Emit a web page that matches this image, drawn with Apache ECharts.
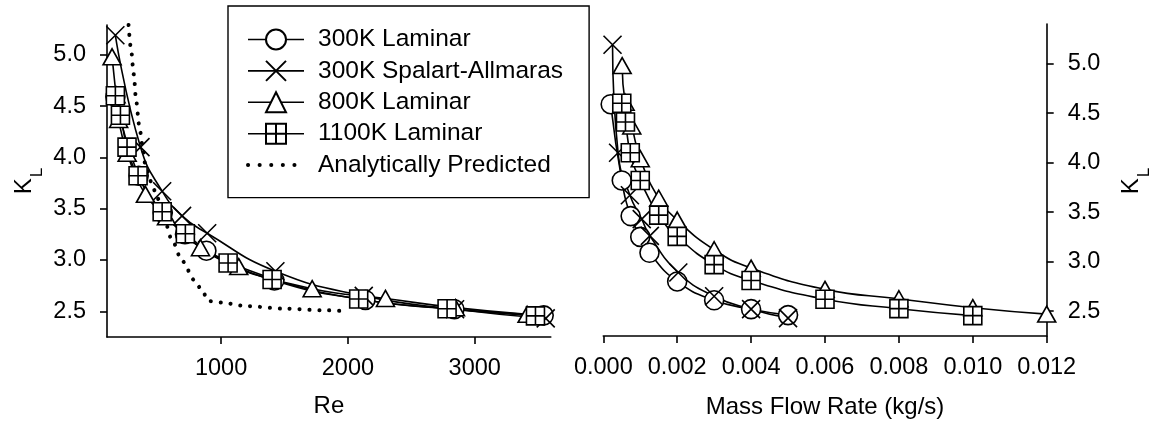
<!DOCTYPE html>
<html><head><meta charset="utf-8">
<script src="https://cdn.jsdelivr.net/npm/echarts@6/dist/echarts.min.js"></script>
<style>html,body{margin:0;padding:0;background:#fff}#c{width:1155px;height:425px}</style>
</head><body><div id="c"></div>
<script>
// ---- data ----
const seriesNames = ['300K Laminar', '300K Spalart-Allmaras', '800K Laminar', '1100K Laminar', 'Analytically Predicted'];

// Loss coefficient K_L per case
const k300L  = [4.59, 3.82, 3.46, 3.25, 3.09, 2.80, 2.61, 2.52, 2.46];
const k300SA = [5.19, 4.10, 3.67, 3.43, 3.26, 2.89, 2.65, 2.52, 2.43];
const k800L  = [4.98, 4.61, 4.37, 4.04, 3.64, 3.42, 3.12, 2.935, 2.72, 2.625, 2.535, 2.47];
const k1100L = [4.60, 4.41, 4.10, 3.82, 3.47, 3.255, 2.97, 2.81, 2.62, 2.525, 2.455];

// Reynolds numbers (left panel)
const re300L  = [166, 350, 540, 715, 884, 1420, 2138, 2840, 3544];
const re300SA = [166, 364, 535, 692, 890, 1428, 2125, 2845, 3560];
const re800L  = [140, 171, 192, 259, 403, 569, 837, 1139, 1718, 2296, 2848, 3413];
const re1100L = [166, 206, 258, 345, 535, 718, 1055, 1402, 2085, 2782, 3479];

// Mass flow rates, kg/s (right panel)
const m300L  = [0.0002, 0.0005, 0.00074, 0.001, 0.00125, 0.002, 0.003, 0.004, 0.005];
const m300SA = [0.00025, 0.0004, 0.00072, 0.00104, 0.00126, 0.00203, 0.003, 0.004, 0.005];
const m800L  = [0.00051, 0.00059, 0.00077, 0.001, 0.0015, 0.002, 0.003, 0.004, 0.006, 0.008, 0.010, 0.012];
const m1100L = [0.0005, 0.0006, 0.00073, 0.001, 0.0015, 0.002, 0.003, 0.004, 0.006, 0.008, 0.010];

// Analytical prediction (left panel)
const reAnalytic = [270, 290, 311, 330, 353, 380, 403, 450, 495, 550, 614, 692, 792, 850, 900, 1000, 1200, 1500, 1800, 2000];
const kAnalytic  = [5.29, 5.05, 4.81, 4.55, 4.32, 4.12, 3.92, 3.76, 3.61, 3.40, 3.19, 2.99, 2.80, 2.70, 2.60, 2.585, 2.55, 2.525, 2.51, 2.50];

// tick labels
const reTicks = [1000, 2000, 3000];
const mTicks = [0, 0.002, 0.004, 0.006, 0.008, 0.010, 0.012];
const kTicks = [2.5, 3.0, 3.5, 4.0, 4.5, 5.0];

// ---- styling ----
const FONT = '"Liberation Sans", Arial, sans-serif';
const SYM_CIRCLE = 'circle';
const SYM_CROSS = 'path://M0,0L10,10M10,0L0,10';
const SYM_TRI = 'triangle';
const SYM_SQ = 'path://M0,0L10,0L10,10L0,10ZM5,0L5,10M0,5L10,5';
const LW = 1.6;

function pairs(xs, ys) { return xs.map((x, i) => [x, ys[i]]); }

function mk(name, sym, size, xs, ys, gi) {
  return {
    type: 'line', name, xAxisIndex: gi, yAxisIndex: gi, data: pairs(xs, ys),
    symbol: sym, symbolSize: size, showAllSymbol: true,
    smooth: 0.5, clip: false,
    lineStyle: { color: '#000', width: LW },
    itemStyle: { color: '#fff', borderColor: '#000', borderWidth: LW },
    emphasis: { disabled: true }, animation: false
  };
}

const axisCommon = {
  type: 'value',
  splitLine: { show: false },
  axisLine: { show: true, onZero: false, lineStyle: { color: '#000', width: 1.6 } },
  axisTick: { show: true, length: 7, lineStyle: { color: '#000', width: 1.6 } },
  nameTextStyle: { fontSize: 24, color: '#000', fontFamily: FONT }
};
function labelStyle(margin, fmt) {
  return { fontSize: 23.5, color: '#000', fontFamily: FONT, margin, formatter: fmt };
}
const klRich = {
  k: { fontSize: 24, lineHeight: 24, fontFamily: FONT, verticalAlign: 'top', fill: '#000' },
  l: { fontSize: 17, lineHeight: 17, fontFamily: FONT, verticalAlign: 'top', padding: [17, 0, 0, 1], fill: '#000' }
};

const chart = echarts.init(document.getElementById('c'), null, { renderer: 'canvas' });
chart.setOption({
  animation: false,
  backgroundColor: '#fff',
  grid: [
    { left: 107, top: 25, width: 443.8, height: 311.9 },
    { left: 603.3, top: 24, width: 443.4, height: 311.9 }
  ],
  xAxis: [
    Object.assign({}, axisCommon, {
      gridIndex: 0, min: 100, max: 3600,
      axisTick: Object.assign({}, axisCommon.axisTick, { customValues: reTicks }),
      axisLabel: Object.assign(labelStyle(20, v => String(v)), { customValues: reTicks }),
      name: 'Re', nameLocation: 'middle', nameGap: 57
    }),
    Object.assign({}, axisCommon, {
      gridIndex: 1, min: 0, max: 0.012,
      axisTick: Object.assign({}, axisCommon.axisTick, { customValues: mTicks }),
      axisLabel: Object.assign(labelStyle(20, v => v.toFixed(3)), { customValues: mTicks }),
      name: 'Mass Flow Rate (kg/s)', nameLocation: 'middle', nameGap: 59
    })
  ],
  yAxis: [
    Object.assign({}, axisCommon, {
      gridIndex: 0, min: 2.25, max: 5.29, position: 'left',
      axisTick: Object.assign({}, axisCommon.axisTick, { customValues: kTicks }),
      axisLabel: Object.assign(labelStyle(21, v => v.toFixed(1)), { customValues: kTicks })
    }),
    Object.assign({}, axisCommon, {
      gridIndex: 1, min: 2.25, max: 5.4, position: 'right',
      axisTick: Object.assign({}, axisCommon.axisTick, { customValues: kTicks }),
      axisLabel: Object.assign(labelStyle(21, v => v.toFixed(1)), { customValues: kTicks })
    })
  ],
  legend: {
    orient: 'vertical', left: 228, top: 6,
    padding: [21, 26, 20, 18],
    itemWidth: 56, itemHeight: 25, itemGap: 6.4,
    borderColor: '#000', borderWidth: 1.4,
    selectedMode: false,
    lineStyle: { width: 1.6 },
    textStyle: { fontSize: 24.5, color: '#000', fontFamily: FONT, padding: [0, 0, 0, 9] },
    data: seriesNames.map((n, i) => i === 4
      ? { name: n, lineStyle: { width: 4, type: [0.1, 11.5], cap: 'round' } }
      : { name: n })
  },
  graphic: [
    { type: 'text', x: 24, y: 181, rotation: Math.PI / 2,
      style: { text: '{k|K}{l|L}', align: 'center', verticalAlign: 'middle', fill: '#000', rich: klRich } },
    { type: 'text', x: 1131, y: 181, rotation: Math.PI / 2,
      style: { text: '{k|K}{l|L}', align: 'center', verticalAlign: 'middle', fill: '#000', rich: klRich } }
  ],
  series: [
    mk(seriesNames[0], SYM_CIRCLE, 19, re300L, k300L, 0),
    mk(seriesNames[1], SYM_CROSS, 18, re300SA, k300SA, 0),
    mk(seriesNames[2], SYM_TRI, [18, 16], re800L, k800L, 0),
    mk(seriesNames[3], SYM_SQ, 18, re1100L, k1100L, 0),
    {
      type: 'line', name: seriesNames[4], xAxisIndex: 0, yAxisIndex: 0,
      data: pairs(reAnalytic, kAnalytic), symbol: 'circle', showSymbol: false,
      smooth: 0.3, smoothMonotone: 'x', clip: false,
      lineStyle: { color: '#000', width: 4, type: [0.1, 9.8], cap: 'round' },
      itemStyle: { color: 'rgba(0,0,0,0)', borderWidth: 0 },
      emphasis: { disabled: true }, animation: false
    },
    mk(seriesNames[0], SYM_CIRCLE, 19, m300L, k300L, 1),
    mk(seriesNames[1], SYM_CROSS, 18, m300SA, k300SA, 1),
    mk(seriesNames[2], SYM_TRI, [18, 16], m800L, k800L, 1),
    mk(seriesNames[3], SYM_SQ, 18, m1100L, k1100L, 1)
  ]
});
</script></body></html>
